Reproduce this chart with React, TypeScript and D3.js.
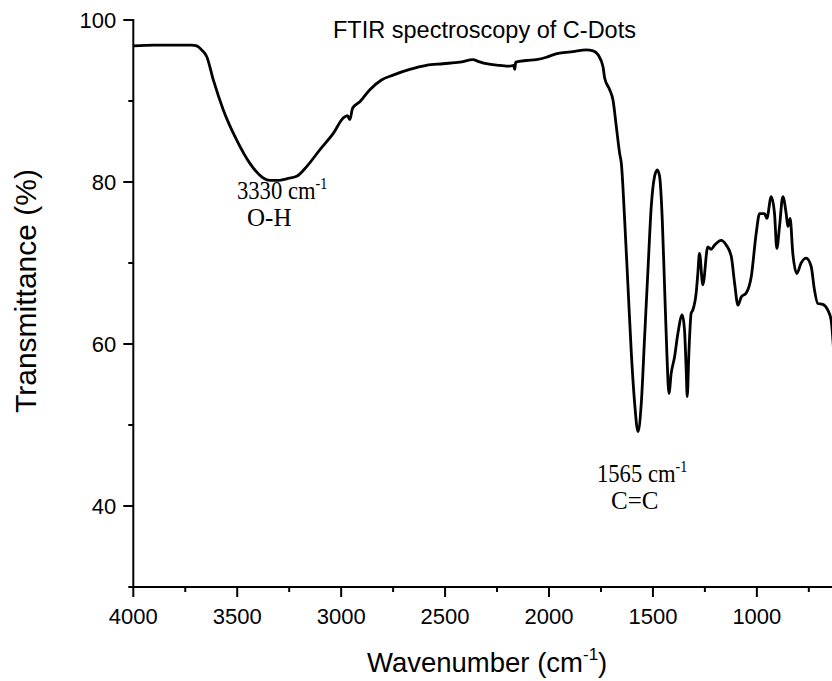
import { useMemo } from 'react'
import { line, curveMonotoneX, scaleLinear } from 'd3'

// FTIR spectrum of C-Dots.

const WAVENUMBER = [
  4000, 3900, 3800, 3720, 3695, 3671, 3647, 3615, 3567, 3503, 3439, 3375, 3343, 3300, 3262, 3214, 3166,
  3102, 3038, 2990, 2970, 2958, 2945, 2910, 2862, 2806, 2750, 2670, 2590, 2510, 2429, 2365, 2341, 2301,
  2237, 2189, 2170, 2165, 2160, 2109, 2061, 2013, 1981, 1949, 1885, 1820, 1788, 1764, 1740, 1732, 1708,
  1692, 1676, 1660, 1652, 1636, 1620, 1604, 1588, 1572, 1556, 1540, 1524, 1508, 1492, 1479, 1468, 1455,
  1444, 1433, 1423, 1412, 1396, 1380, 1359, 1348, 1340, 1335, 1327, 1316, 1308, 1292, 1284, 1276, 1260,
  1236, 1220, 1204, 1172, 1147, 1123, 1107, 1091, 1075, 1051, 1027, 1003, 987, 963, 952, 931, 915, 904,
  891, 875, 859, 851, 840, 827, 808, 787, 763, 739, 723, 707, 683, 659, 643, 630,
]
const TRANSMITTANCE = [
  96.8, 96.9, 96.9, 96.9, 96.8, 96.3, 95.5, 92.6, 88.9, 85.2, 82.3, 80.5, 80.2, 80.2, 80.4, 80.7, 81.9,
  84.0, 86.0, 87.9, 88.2, 87.7, 89.1, 89.9, 91.4, 92.6, 93.2, 93.9, 94.4, 94.6, 94.8, 95.1, 94.9, 94.6,
  94.4, 94.3, 94.4, 93.9, 94.8, 95.0, 95.1, 95.4, 95.7, 95.9, 96.1, 96.3, 96.2, 95.7, 94.2, 92.8, 91.4,
  90.1, 86.8, 83.5, 82.3, 75.3, 67.1, 58.9, 52.7, 49.2, 52.7, 60.9, 69.1, 77.0, 80.7, 81.5, 80.7, 75.3,
  67.1, 58.9, 53.9, 56.4, 58.4, 61.3, 63.6, 61.7, 56.8, 53.5, 58.9, 63.8, 64.2, 66.3, 68.7, 71.2, 67.3,
  72.0, 71.7, 72.2, 72.8, 72.2, 70.8, 67.5, 64.8, 65.8, 66.3, 68.3, 73.7, 76.1, 76.1, 75.5, 78.2, 76.1, 71.8,
  74.5, 78.2, 76.1, 74.5, 75.5, 71.2, 68.7, 70.0, 70.6, 69.6, 66.7, 65.0, 64.9, 64.2, 63.0, 59.0,
]

const X_MAJOR = [4000, 3500, 3000, 2500, 2000, 1500, 1000]
const X_MINOR = [3750, 3250, 2750, 2250, 1750, 1250, 750]
const Y_MAJOR = [100, 80, 60, 40]
const Y_MINOR = [90, 70, 50, 30]

const W = 832
const H = 681
const SANS = 'Liberation Sans, Arial, sans-serif'
const SERIF = 'Liberation Serif, Times New Roman, serif'

// narrow serif label "xxxx cm⁻¹" — the reference's Times text is squeezed horizontally
function BandLabel({ x, y, value }: { x: number; y: number; value: string }) {
  return (
    <text transform={`translate(${x},${y}) scale(0.87,1)`} fontFamily={SERIF} fontSize={26}>
      {value} cm
      <tspan fontSize={16} dy={-10}>-1</tspan>
    </text>
  )
}

export default function App() {
  const x = useMemo(() => scaleLinear().domain([4000, 600]).range([133.3, 840]), [])
  const y = useMemo(() => scaleLinear().domain([30, 100]).range([587, 20]), [])

  const path = useMemo(() => {
    const pts = WAVENUMBER.map((w, i) => [w, TRANSMITTANCE[i]] as [number, number])
    return (
      line<[number, number]>()
        .x((d) => x(d[0]))
        .y((d) => y(d[1]))
        .curve(curveMonotoneX)(pts) ?? ''
    )
  }, [x, y])

  const x0 = x(4000)
  const yBase = y(30)

  return (
    <>
      <style>{'body{margin:0}'}</style>
      <svg width={W} height={H} viewBox={`0 0 ${W} ${H}`} style={{ display: 'block', background: '#fff' }}>
        {/* axes */}
        <g stroke="#000" strokeWidth={2} fill="none">
          <line x1={x0} y1={y(100) - 1} x2={x0} y2={yBase + 1} />
          <line x1={x0 - 1} y1={yBase} x2={W} y2={yBase} />
          {Y_MAJOR.map((v) => (
            <line key={`ym${v}`} x1={x0 - 10} x2={x0} y1={y(v)} y2={y(v)} />
          ))}
          {Y_MINOR.map((v) => (
            <line key={`yn${v}`} x1={x0 - 5} x2={x0} y1={y(v)} y2={y(v)} />
          ))}
          {X_MAJOR.map((v) => (
            <line key={`xm${v}`} x1={x(v)} x2={x(v)} y1={yBase} y2={yBase + 10} />
          ))}
          {X_MINOR.map((v) => (
            <line key={`xn${v}`} x1={x(v)} x2={x(v)} y1={yBase} y2={yBase + 5} />
          ))}
        </g>

        <g fontFamily={SANS} fontSize={22} fill="#000">
          {Y_MAJOR.map((v) => (
            <text key={`yl${v}`} x={x0 - 17} y={y(v)} textAnchor="end" dominantBaseline="central">
              {v}
            </text>
          ))}
          {X_MAJOR.map((v) => (
            <text key={`xl${v}`} x={x(v)} y={624} textAnchor="middle">
              {v}
            </text>
          ))}
        </g>

        {/* spectrum */}
        <path d={path} fill="none" stroke="#000" strokeWidth={2.8} strokeLinejoin="round" />

        {/* titles */}
        <text x={333} y={38} fontFamily={SANS} fontSize={23.5}>
          FTIR spectroscopy of C-Dots
        </text>
        <text x={367} y={672} fontFamily={SANS} fontSize={27.5}>
          Wavenumber (cm
          <tspan fontSize={17} dy={-12}>-1</tspan>
          <tspan dy={12}>)</tspan>
        </text>
        <text
          transform="translate(36,291) rotate(-90)"
          textAnchor="middle"
          fontFamily={SANS}
          fontSize={30}
        >
          Transmittance (%)
        </text>

        {/* band annotations */}
        <BandLabel x={237} y={199} value="3330" />
        <text x={247} y={226} fontFamily={SERIF} fontSize={25}>
          O-H
        </text>
        <BandLabel x={597} y={482} value="1565" />
        <text x={611} y={509} fontFamily={SERIF} fontSize={25}>
          C=C
        </text>
      </svg>
    </>
  )
}
